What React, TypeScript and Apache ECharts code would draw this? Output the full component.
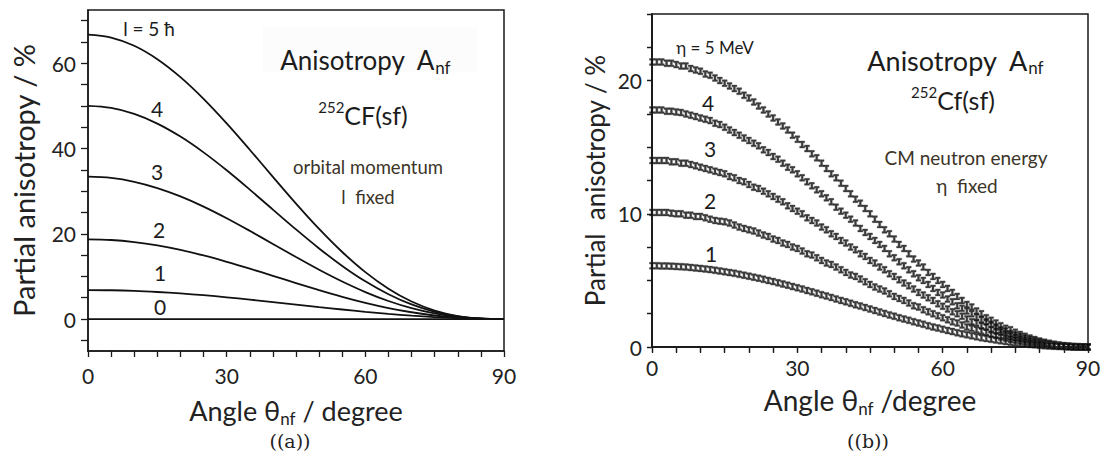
import React, { useEffect, useRef } from "react";
import * as echarts from "echarts";

// ---------- Panel (a): orbital momentum l fixed ----------
const anglesA = [0, 5, 10, 15, 20, 25, 30, 35, 40, 45, 50, 55, 60, 65, 70, 75, 80, 85, 90];
const lineL5 = [66.7, 66.04, 64.1, 60.95, 56.74, 51.65, 45.89, 39.71, 33.36, 27.09, 21.14, 15.72, 11.0, 7.11, 4.1, 1.99, 0.7, 0.12, 0];
const lineL4 = [50, 49.52, 48.12, 45.85, 42.8, 39.1, 34.9, 30.37, 25.68, 21.02, 16.56, 12.46, 8.84, 5.81, 3.42, 1.7, 0.63, 0.11, 0];
const lineL3 = [33.4, 33.1, 32.2, 30.73, 28.77, 26.38, 23.65, 20.69, 17.62, 14.54, 11.56, 8.8, 6.33, 4.23, 2.54, 1.3, 0.5, 0.1, 0];
const lineL2 = [18.7, 18.54, 18.05, 17.27, 16.21, 14.91, 13.43, 11.82, 10.13, 8.43, 6.77, 5.21, 3.8, 2.58, 1.59, 0.83, 0.33, 0.07, 0];
const lineL1 = [6.8, 6.75, 6.6, 6.34, 6.0, 5.59, 5.1, 4.56, 3.99, 3.4, 2.81, 2.24, 1.7, 1.21, 0.8, 0.46, 0.21, 0.05, 0];
const lineL0 = [0, 0, 0, 0, 0, 0, 0, 0, 0, 0, 0, 0, 0, 0, 0, 0, 0, 0, 0];
const xTicksA = [0, 5, 10, 15, 20, 25, 30, 35, 40, 45, 50, 55, 60, 65, 70, 75, 80, 85, 90];
const xLabelsA = [0, 30, 60, 90];
const yTicksA = [-5, 0, 5, 10, 15, 20, 25, 30, 35, 40, 45, 50, 55, 60, 65, 70];
const yLabelsA = [0, 20, 40, 60];

// ---------- Panel (b): CM neutron energy eta fixed ----------
const anglesB = [
  0, 1, 2, 3, 4, 5, 6, 7, 8, 9, 10, 11, 12, 13, 14, 15, 16, 17, 18, 19, 20,
  21, 22, 23, 24, 25, 26, 27, 28, 29, 30, 31, 32, 33, 34, 35, 36, 37, 38, 39, 40,
  41, 42, 43, 44, 45, 46, 47, 48, 49, 50, 51, 52, 53, 54, 55, 56, 57, 58, 59, 60,
  61, 62, 63, 64, 65, 66, 67, 68, 69, 70, 71, 72, 73, 74, 75, 76, 77, 78, 79, 80,
  81, 82, 83, 84, 85, 86, 87, 88, 89, 90,
];
const eta5 = [
  21.4, 21.4, 21.4, 21.3, 21.3, 21.2, 21.1, 21.1, 20.9, 20.8, 20.7,
  20.5, 20.4, 20.2, 20.0, 19.8, 19.6, 19.4, 19.2, 18.9, 18.7,
  18.4, 18.1, 17.8, 17.5, 17.2, 16.9, 16.6, 16.3, 15.9, 15.6,
  15.2, 14.9, 14.5, 14.2, 13.8, 13.4, 13.0, 12.7, 12.3, 11.9,
  11.5, 11.1, 10.8, 10.4, 10.0, 9.6, 9.2, 8.8, 8.5, 8.1,
  7.7, 7.4, 7.0, 6.6, 6.3, 6.0, 5.6, 5.3, 5.0, 4.7,
  4.4, 4.1, 3.8, 3.5, 3.2, 3.0, 2.7, 2.5, 2.2, 2.0,
  1.8, 1.6, 1.4, 1.3, 1.1, 0.94, 0.8, 0.68, 0.56, 0.45,
  0.36, 0.28, 0.21, 0.15, 0.1, 0.06, 0.03, 0.01, 0, 0,
];
const eta4 = [
  17.8, 17.8, 17.8, 17.7, 17.7, 17.65, 17.6, 17.5, 17.4, 17.3, 17.2,
  17.1, 17.0, 16.8, 16.7, 16.5, 16.3, 16.1, 15.9, 15.7, 15.5,
  15.3, 15.1, 14.8, 14.6, 14.3, 14.1, 13.8, 13.5, 13.3, 13.0,
  12.7, 12.4, 12.1, 11.8, 11.5, 11.2, 10.9, 10.5, 10.2, 9.9,
  9.6, 9.3, 8.9, 8.6, 8.3, 8.0, 7.7, 7.4, 7.0, 6.7,
  6.4, 6.1, 5.8, 5.5, 5.2, 5.0, 4.7, 4.4, 4.1, 3.9,
  3.6, 3.4, 3.1, 2.9, 2.7, 2.5, 2.25, 2.05, 1.9, 1.7,
  1.5, 1.3, 1.2, 1.0, 0.91, 0.78, 0.67, 0.56, 0.46, 0.38,
  0.3, 0.23, 0.17, 0.12, 0.08, 0.05, 0.02, 0.01, 0, 0,
];
const eta3 = [
  14.0, 14.0, 14.0, 14.0, 13.9, 13.9, 13.8, 13.8, 13.7, 13.6, 13.5,
  13.4, 13.3, 13.2, 13.1, 13.0, 12.8, 12.7, 12.5, 12.4, 12.2,
  12.0, 11.9, 11.7, 11.5, 11.3, 11.1, 10.9, 10.6, 10.4, 10.2,
  10.0, 9.7, 9.5, 9.3, 9.0, 8.8, 8.5, 8.3, 8.0, 7.8,
  7.5, 7.3, 7.0, 6.8, 6.5, 6.3, 6.0, 5.8, 5.5, 5.3,
  5.05, 4.8, 4.6, 4.35, 4.1, 3.9, 3.7, 3.5, 3.25, 3.05,
  2.85, 2.65, 2.5, 2.3, 2.1, 1.9, 1.8, 1.6, 1.5, 1.3,
  1.2, 1.1, 0.94, 0.82, 0.72, 0.62, 0.53, 0.44, 0.37, 0.3,
  0.24, 0.18, 0.14, 0.1, 0.07, 0.04, 0.02, 0.01, 0, 0,
];
const eta2 = [
  10.1, 10.1, 10.1, 10.1, 10.05, 10.0, 10.0, 9.9, 9.9, 9.8, 9.8,
  9.7, 9.6, 9.5, 9.45, 9.4, 9.3, 9.15, 9.0, 8.9, 8.8,
  8.7, 8.55, 8.4, 8.3, 8.1, 8.0, 7.8, 7.7, 7.5, 7.4,
  7.2, 7.0, 6.9, 6.7, 6.5, 6.3, 6.2, 6.0, 5.8, 5.6,
  5.4, 5.3, 5.1, 4.9, 4.7, 4.5, 4.35, 4.2, 4.0, 3.8,
  3.65, 3.5, 3.3, 3.1, 3.0, 2.8, 2.65, 2.5, 2.35, 2.2,
  2.05, 1.9, 1.8, 1.65, 1.5, 1.4, 1.3, 1.2, 1.1, 0.95,
  0.86, 0.76, 0.67, 0.59, 0.52, 0.45, 0.38, 0.32, 0.26, 0.21,
  0.17, 0.13, 0.1, 0.07, 0.05, 0.03, 0.01, 0.01, 0, 0,
];
const eta1 = [
  6.1, 6.1, 6.09, 6.08, 6.07, 6.05, 6.03, 6.0, 5.97, 5.94, 5.9,
  5.86, 5.81, 5.76, 5.71, 5.65, 5.59, 5.53, 5.46, 5.39, 5.32,
  5.24, 5.17, 5.08, 5.0, 4.91, 4.82, 4.73, 4.64, 4.54, 4.45,
  4.35, 4.24, 4.14, 4.04, 3.93, 3.83, 3.72, 3.61, 3.5, 3.39,
  3.28, 3.17, 3.07, 2.96, 2.85, 2.74, 2.63, 2.52, 2.41, 2.31,
  2.2, 2.1, 2.0, 1.9, 1.8, 1.7, 1.6, 1.51, 1.42, 1.33,
  1.24, 1.16, 1.07, 0.99, 0.92, 0.84, 0.77, 0.7, 0.64, 0.58,
  0.52, 0.46, 0.41, 0.36, 0.31, 0.27, 0.23, 0.19, 0.16, 0.13,
  0.1, 0.08, 0.06, 0.04, 0.03, 0.02, 0.01, 0, 0, 0,
];
const xTicksB = [0, 5, 10, 15, 20, 25, 30, 35, 40, 45, 50, 55, 60, 65, 70, 75, 80, 85, 90];
const xLabelsB = [0, 30, 60, 90];
const yTicksB = [0, 2.5, 5, 7.5, 10, 12.5, 15, 17.5, 20, 22.5, 25];
const yLabelsB = [0, 10, 20];

const FONT = "Lato";
const INK = "#1c1c1c";
const NOTE = "#3b3428";
const AXIS = "#1a1a1a";

const zip = (xs: number[], ys: number[]) => xs.map((x, i) => [x, ys[i]]);

const IBEAM =
  "path://M0,0L6,0L6,2L4.2,2L4.2,6L6,6L6,8L0,8L0,6L1.8,6L1.8,2L0,2Z";

function baseX(grid: number, gap: number, name: string, labMargin: number, nameSize: number) {
  return {
    type: "value",
    gridIndex: grid,
    min: 0,
    max: 90,
    interval: 30,
    splitLine: { show: false },
    axisLine: { show: true, onZero: false, lineStyle: { color: AXIS, width: 1.5 } },
    axisTick: { show: true, inside: false, length: 6, customValues: grid === 0 ? xTicksA : xTicksB, lineStyle: { color: AXIS, width: 1.3 } },
    axisLabel: {
      show: true,
      customValues: grid === 0 ? xLabelsA : xLabelsB,
      fontFamily: FONT,
      fontSize: 21,
      color: "#222",
      margin: labMargin,
    },
    name,
    nameLocation: "middle",
    nameGap: gap,
    nameTextStyle: {
      fontFamily: FONT,
      fontSize: nameSize,
      color: "#222",
      lineHeight: 34,
      rich: {
        s: { fontFamily: FONT, fontSize: Math.round(nameSize * 0.62), color: "#222", lineHeight: 18, verticalAlign: "bottom" },
      },
    },
  };
}

export default function App() {
  const ref = useRef<HTMLDivElement>(null);
  useEffect(() => {
    document.body.style.margin = "0";
    const chart = echarts.init(ref.current!, null, { renderer: "svg" });
    const lineSeries = (data: number[]) => ({
      type: "line",
      xAxisIndex: 0,
      yAxisIndex: 0,
      data: zip(anglesA, data),
      smooth: 0.35,
      showSymbol: false,
      symbol: "none",
      lineStyle: { color: "#111", width: 1.8 },
      z: 3,
    });
    const markSeries = (data: number[]) => ({
      type: "scatter",
      xAxisIndex: 1,
      yAxisIndex: 1,
      data: zip(anglesB, data),
      symbol: IBEAM,
      symbolSize: [5, 7],
      itemStyle: { color: "#0a0a0a", borderColor: "rgba(60,60,60,0.55)", borderWidth: 0.8 },
      z: 3,
    });
    const option: any = {
      animation: false,
      backgroundColor: "#ffffff",
      grid: [
        { left: 88, top: 10, width: 416, height: 341, show: true, borderColor: AXIS, borderWidth: 1.5, containLabel: false },
        { left: 652, top: 14, width: 436, height: 333, show: true, borderColor: AXIS, borderWidth: 1.5, containLabel: false },
      ],
      xAxis: [
        baseX(0, 42, "Angle θ{s|nf} / degree", 14, 27),
        baseX(1, 36, "Angle θ{s|nf} /degree", 10, 28),
        {
          type: "value",
          gridIndex: 1,
          position: "top",
          min: 0,
          max: 90,
          interval: 30,
          splitLine: { show: false },
          axisLine: { show: true, lineStyle: { color: AXIS, width: 1.5 } },
          axisTick: { show: true, inside: true, length: 5, customValues: xTicksB, lineStyle: { color: AXIS, width: 1.2 } },
          axisLabel: { show: false },
        },
      ],
      yAxis: [
        {
          type: "value",
          gridIndex: 0,
          min: -7.5,
          max: 72.5,
          splitLine: { show: false },
          axisLine: { show: true, onZero: false, lineStyle: { color: AXIS, width: 1.5 } },
          axisTick: { show: true, inside: false, length: 7, customValues: yTicksA, lineStyle: { color: AXIS, width: 1.3 } },
          axisLabel: { show: true, customValues: yLabelsA, fontFamily: FONT, fontSize: 21, color: "#222", margin: 12 },
          name: "Partial anisotropy / %",
          nameLocation: "middle",
          nameGap: 50,
          nameRotate: 90,
          nameTextStyle: { fontFamily: FONT, fontSize: 29, color: "#222" },
        },
        {
          type: "value",
          gridIndex: 1,
          min: 0,
          max: 25,
          interval: 2.5,
          splitLine: { show: false },
          axisLine: { show: true, onZero: false, lineStyle: { color: AXIS, width: 1.5 } },
          axisTick: { show: true, inside: false, length: 5, customValues: yTicksB, lineStyle: { color: AXIS, width: 1.3 } },
          axisLabel: { show: true, customValues: yLabelsB, fontFamily: FONT, fontSize: 21, color: "#222", margin: 10 },
          name: "Partial  anisotropy / %",
          nameLocation: "middle",
          nameGap: 44,
          nameRotate: 90,
          nameTextStyle: { fontFamily: FONT, fontSize: 26, color: "#222" },
        },
        {
          type: "value",
          gridIndex: 1,
          position: "right",
          min: 0,
          max: 25,
          interval: 2.5,
          splitLine: { show: false },
          axisLine: { show: true, lineStyle: { color: AXIS, width: 1.5 } },
          axisTick: { show: true, inside: true, length: 5, customValues: yTicksB, lineStyle: { color: AXIS, width: 1.2 } },
          axisLabel: { show: false },
        },
      ],
      series: [
        lineSeries(lineL5),
        lineSeries(lineL4),
        lineSeries(lineL3),
        lineSeries(lineL2),
        lineSeries(lineL1),
        lineSeries(lineL0),
        markSeries(eta5),
        markSeries(eta4),
        markSeries(eta3),
        markSeries(eta2),
        markSeries(eta1),
      ],
      graphic: [
        { type: "rect", shape: { x: 263, y: 27, width: 214, height: 45 }, style: { fill: "#fcfcfc" }, z: 0 },
        // panel (a) annotations
        { type: "text", x: 149, y: 28, style: { text: "l = 5 ħ", fontFamily: FONT, fontSize: 19, fill: INK, align: "center", verticalAlign: "middle" } },
        { type: "text", x: 157, y: 108, style: { text: "4", fontFamily: FONT, fontSize: 21, fill: INK, align: "center", verticalAlign: "middle" } },
        { type: "text", x: 157, y: 171, style: { text: "3", fontFamily: FONT, fontSize: 21, fill: INK, align: "center", verticalAlign: "middle" } },
        { type: "text", x: 159, y: 229, style: { text: "2", fontFamily: FONT, fontSize: 21, fill: INK, align: "center", verticalAlign: "middle" } },
        { type: "text", x: 160, y: 272, style: { text: "1", fontFamily: FONT, fontSize: 21, fill: INK, align: "center", verticalAlign: "middle" } },
        { type: "text", x: 160, y: 306, style: { text: "0", fontFamily: FONT, fontSize: 21, fill: INK, align: "center", verticalAlign: "middle" } },
        {
          type: "text", x: 365, y: 60,
          style: {
            text: "{a|Anisotropy  A}{s|nf}", align: "center", verticalAlign: "middle",
            rich: {
              a: { fontFamily: FONT, fontSize: 26, fill: INK, lineHeight: 32 },
              s: { fontFamily: FONT, fontSize: 17, fill: INK, lineHeight: 17, verticalAlign: "bottom" },
            },
          },
        },
        {
          type: "text", x: 363, y: 115,
          style: {
            text: "{p|252}{a|CF(sf)}", align: "center", verticalAlign: "middle",
            rich: {
              p: { fontFamily: FONT, fontSize: 15, fill: INK, lineHeight: 15, verticalAlign: "top" },
              a: { fontFamily: FONT, fontSize: 25, fill: INK, lineHeight: 32 },
            },
          },
        },
        { type: "text", x: 368, y: 167, style: { text: "orbital momentum", fontFamily: FONT, fontSize: 18.5, fill: NOTE, align: "center", verticalAlign: "middle" } },
        { type: "text", x: 368, y: 197, style: { text: "l  fixed", fontFamily: FONT, fontSize: 18.5, fill: NOTE, align: "center", verticalAlign: "middle" } },
        { type: "text", x: 290, y: 441, style: { text: "((a))", fontFamily: "DejaVu Serif", fontSize: 19, fill: "#222", align: "center", verticalAlign: "middle" } },
        // panel (b) annotations
        { type: "text", x: 715, y: 47, style: { text: "η = 5 MeV", fontFamily: FONT, fontSize: 17, fill: INK, align: "center", verticalAlign: "middle" } },
        { type: "text", x: 708, y: 102, style: { text: "4", fontFamily: FONT, fontSize: 21, fill: INK, align: "center", verticalAlign: "middle" } },
        { type: "text", x: 710, y: 148, style: { text: "3", fontFamily: FONT, fontSize: 21, fill: INK, align: "center", verticalAlign: "middle" } },
        { type: "text", x: 710, y: 200, style: { text: "2", fontFamily: FONT, fontSize: 21, fill: INK, align: "center", verticalAlign: "middle" } },
        { type: "text", x: 711, y: 253, style: { text: "1", fontFamily: FONT, fontSize: 21, fill: INK, align: "center", verticalAlign: "middle" } },
        {
          type: "text", x: 955, y: 60,
          style: {
            text: "{a|Anisotropy  A}{s|nf}", align: "center", verticalAlign: "middle",
            rich: {
              a: { fontFamily: FONT, fontSize: 27, fill: INK, lineHeight: 32 },
              s: { fontFamily: FONT, fontSize: 17, fill: INK, lineHeight: 17, verticalAlign: "bottom" },
            },
          },
        },
        {
          type: "text", x: 953, y: 100,
          style: {
            text: "{p|252}{a|Cf(sf)}", align: "center", verticalAlign: "middle",
            rich: {
              p: { fontFamily: FONT, fontSize: 15, fill: INK, lineHeight: 15, verticalAlign: "top" },
              a: { fontFamily: FONT, fontSize: 25, fill: INK, lineHeight: 32 },
            },
          },
        },
        { type: "text", x: 966, y: 157, style: { text: "CM neutron energy", fontFamily: FONT, fontSize: 19, fill: NOTE, align: "center", verticalAlign: "middle" } },
        { type: "text", x: 967, y: 185, style: { text: "η  fixed", fontFamily: FONT, fontSize: 19, fill: NOTE, align: "center", verticalAlign: "middle" } },
        { type: "text", x: 868, y: 441, style: { text: "((b))", fontFamily: "DejaVu Serif", fontSize: 19, fill: "#222", align: "center", verticalAlign: "middle" } },
      ],
    };
    chart.setOption(option);
    return () => chart.dispose();
  }, []);
  return <div ref={ref} style={{ width: 1114, height: 462 }} />;
}
